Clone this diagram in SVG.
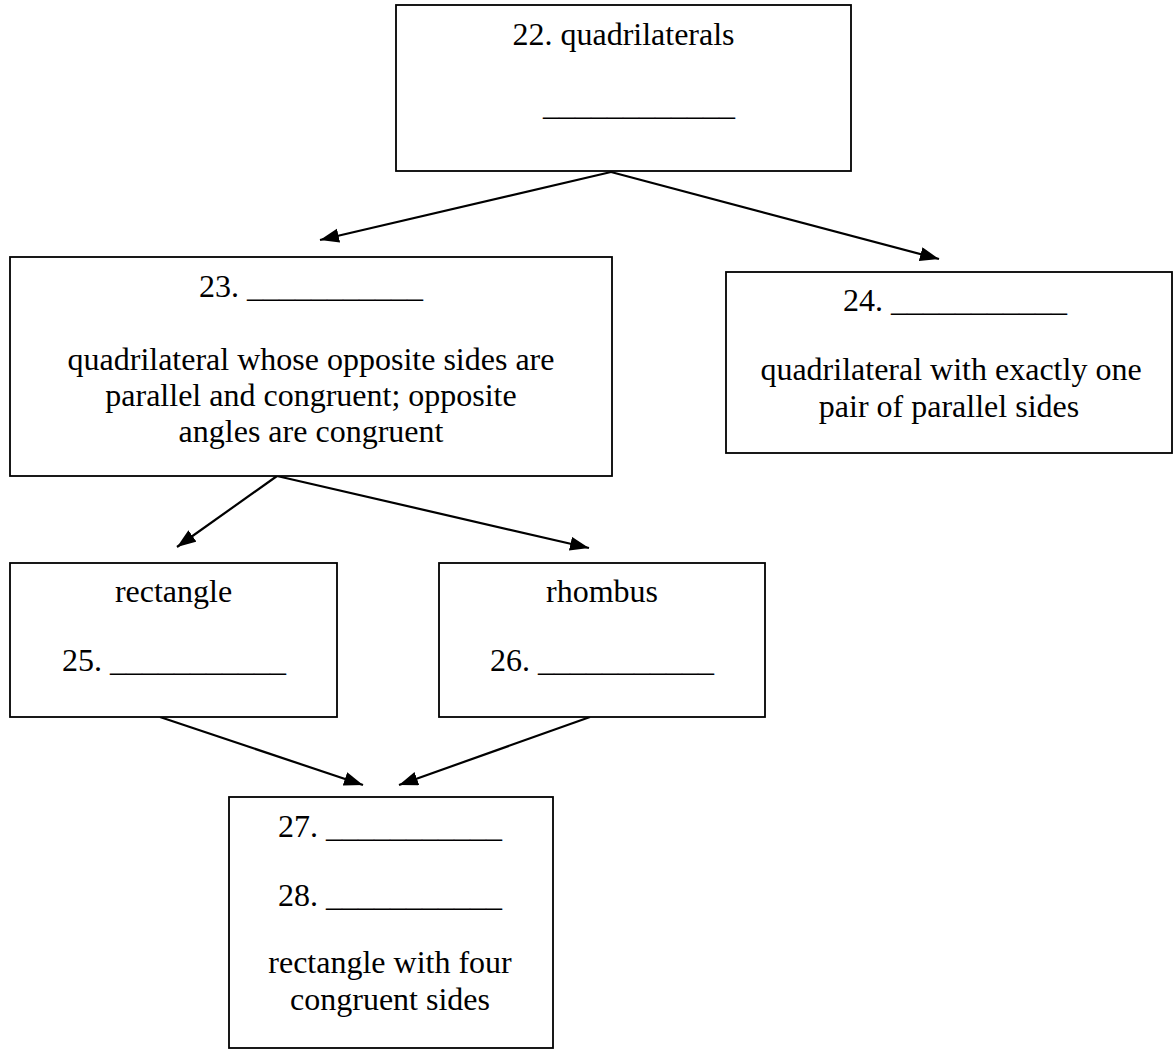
<svg xmlns="http://www.w3.org/2000/svg" width="1174" height="1051" viewBox="0 0 1174 1051">
<style>
.box{fill:#fff;stroke:#000;stroke-width:1.8}
.t{font-family:"Liberation Serif","Times New Roman",serif;font-size:32px;fill:#000}
.m{text-anchor:middle}
.c{stroke:#000;stroke-width:2.2;fill:none;marker-end:url(#ah)}
</style>
<defs>
<marker id="ah" markerUnits="userSpaceOnUse" markerWidth="21" markerHeight="15" refX="19" refY="7" orient="auto">
<path d="M0,0 L19,7 L0,14 z" fill="#000"/>
</marker>
</defs>
<rect width="1174" height="1051" fill="#fff"/>
<g id="connectors">
<line class="c" x1="611" y1="172" x2="320" y2="240"/>
<line class="c" x1="611" y1="172" x2="939" y2="259"/>
<line class="c" x1="277" y1="476" x2="177" y2="547"/>
<line class="c" x1="277" y1="476" x2="589" y2="548"/>
<line class="c" x1="160" y1="717" x2="363" y2="785"/>
<line class="c" x1="590" y1="717" x2="399" y2="785"/>
</g>
<g id="n22">
<rect class="box" x="396" y="5" width="455" height="166"/>
<text class="t m" x="623.5" y="45">22. quadrilaterals</text>
<text class="t" x="543" y="115">____________</text>
</g>
<g id="n23">
<rect class="box" x="10" y="257" width="602" height="219"/>
<text class="t m" x="311" y="297">23. ___________</text>
<text class="t m" x="311" y="370">quadrilateral whose opposite sides are</text>
<text class="t m" x="311" y="406">parallel and congruent; opposite</text>
<text class="t m" x="311" y="442">angles are congruent</text>
</g>
<g id="n24">
<rect class="box" x="726" y="272" width="446" height="181"/>
<text class="t m" x="955" y="311">24. ___________</text>
<text class="t m" x="951" y="380">quadrilateral with exactly one</text>
<text class="t m" x="949" y="417">pair of parallel sides</text>
</g>
<g id="n25">
<rect class="box" x="10" y="563" width="327" height="154"/>
<text class="t m" x="173.5" y="602">rectangle</text>
<text class="t m" x="174" y="671">25. ___________</text>
</g>
<g id="n26">
<rect class="box" x="439" y="563" width="326" height="154"/>
<text class="t m" x="602" y="602">rhombus</text>
<text class="t m" x="602" y="671">26. ___________</text>
</g>
<g id="n27">
<rect class="box" x="229" y="797" width="324" height="251"/>
<text class="t m" x="390" y="837">27. ___________</text>
<text class="t m" x="390" y="906">28. ___________</text>
<text class="t m" x="390" y="973">rectangle with four</text>
<text class="t m" x="390" y="1010">congruent sides</text>
</g>
</svg>
